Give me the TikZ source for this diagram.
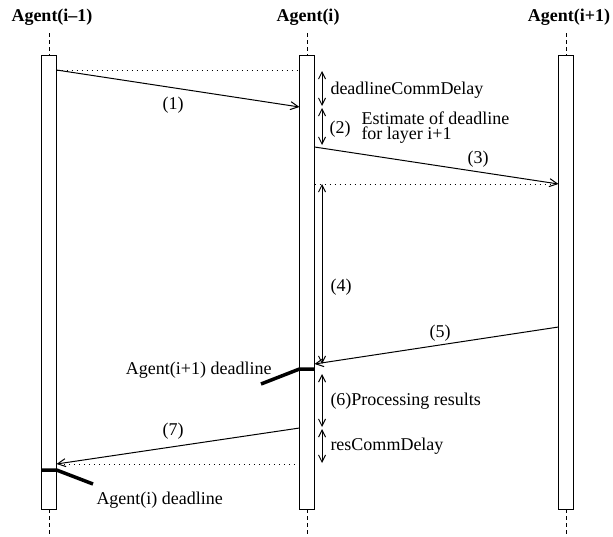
\documentclass[tikz,border=0pt]{standalone}
\usepackage{fontspec}
\setmainfont{Liberation Serif}
\usetikzlibrary{arrows.meta}

\begin{document}
\begin{tikzpicture}[x=1pt, y=-1pt, line width=1pt,
    every node/.style={font=\fontsize{18}{20}\selectfont, inner sep=0pt, text height=12pt, text depth=0pt},
    head/.style={font=\fontsize{18}{20}\selectfont\bfseries},
    bar/.style={draw, fill=white, minimum width=15pt, minimum height=454pt},
    life/.style={dash pattern=on 4pt off 3pt},
    guide/.style={dash pattern=on 1pt off 4pt},
    msg/.style={-{Straight Barb[length=8pt,width=8pt]}},
    span/.style={{Straight Barb[length=7pt,width=7pt]}-{Straight Barb[length=7pt,width=7pt]}},
    dl/.style={line width=3.5pt}]
\useasboundingbox (0,0) rectangle (613,536);
    \node[head] (agentA) at (52,15) {Agent(i--1)};
    \node[head] (agentB) at (308,15) {Agent(i)};
    \node[head] (agentC) at (569,15) {Agent(i+1)};
    \foreach \x/\n in {49/A,307/B,566/C} {
        \coordinate (top\n) at (\x,33);
        \coordinate (bot\n) at (\x,536);
        \draw[life] (top\n) -- (bot\n);
        \node[bar] (bar\n) at (\x,282) {};
    }
    \coordinate (m1s) at (56.5,70);
    \coordinate (m1e) at (299.5,107);
    \coordinate (g1e) at (299.5,70);
    \coordinate (m3s) at (314.5,147);
    \coordinate (m3e) at (558.5,184);
    \coordinate (g3s) at (314.5,184);
    \coordinate (m5s) at (558.5,327);
    \coordinate (m5e) at (314.5,364);
    \coordinate (m7s) at (299.5,428);
    \coordinate (m7e) at (56.5,464);
    \coordinate (g7s) at (299.5,464);
    \draw[guide] (m1s) -- (g1e);
    \draw[msg] (m1s) -- (m1e);
    \draw[msg] (m3s) -- (m3e);
    \draw[guide] (g3s) -- (m3e);
    \draw[msg] (m5s) -- (m5e);
    \draw[msg] (m7s) -- (m7e);
    \draw[guide] (g7s) -- (m7e);
    \node (lbl1) at (173,103) {(1)};
    \node (lbl3) at (478,157) {(3)};
    \node (lbl5) at (440,331) {(5)};
    \node (lbl7) at (173,429) {(7)};
    \coordinate (s0) at (322,71);
    \coordinate (s1) at (322,106);
    \coordinate (s2) at (322,108);
    \coordinate (s3) at (322,145);
    \coordinate (s4) at (322,184);
    \coordinate (s5) at (322,364);
    \coordinate (s6) at (322,374);
    \coordinate (s7) at (322,427);
    \coordinate (s8) at (322,429);
    \coordinate (s9) at (322,463);
    \draw[span] (s0) -- (s1);
    \draw[span] (s2) -- (s3);
    \draw[span] (s4) -- (s5);
    \draw[span] (s6) -- (s7);
    \draw[span] (s8) -- (s9);
    \node[anchor=west] (commDelay) at (330,88) {deadlineCommDelay};
    \node (lbl2) at (340,127) {(2)};
    \node[anchor=west, align=left, text height=, text depth=, font=\fontsize{18}{15}\selectfont] (est) at (361,128) {Estimate of deadline\\for layer i+1};
    \node (lbl4) at (341,285) {(4)};
    \node[anchor=west] (proc) at (330,399) {(6)Processing results};
    \node[anchor=west] (resDelay) at (330,444) {resCommDelay};
    \coordinate (d1a) at (299.5,369);
    \coordinate (d1b) at (314.5,369);
    \coordinate (d1c) at (261,384);
    \coordinate (d2a) at (41.5,470);
    \coordinate (d2b) at (56.5,470);
    \coordinate (d2c) at (93,484);
    \draw[dl] (d1b) -- (d1a) -- (d1c);
    \draw[dl] (d2a) -- (d2b) -- (d2c);
    \node[anchor=east] (dlC) at (272,368) {Agent(i+1) deadline};
    \node[anchor=west] (dlB) at (96,498) {Agent(i) deadline};
\end{tikzpicture}
\end{document}
